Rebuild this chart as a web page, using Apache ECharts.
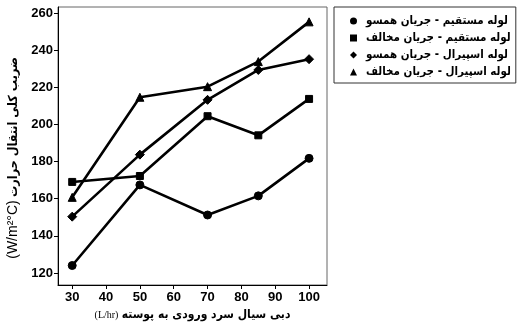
<!DOCTYPE html>
<html><head><meta charset="utf-8">
<script src="https://cdn.jsdelivr.net/npm/echarts@6/dist/echarts.min.js"></script>
<style>html,body{margin:0;padding:0;background:#fff}#c{width:518px;height:328px}</style>
</head><body><div id="c"></div>
<script>
const xValues = [30, 50, 70, 85, 100];
const seriesNames = [
  'لوله مستقیم - جریان همسو',
  'لوله مستقیم - جریان مخالف',
  'لوله اسپیرال - جریان همسو',
  'لوله اسپیرال - جریان مخالف'
];
const straightCo = [124, 167.4, 151.2, 161.5, 181.7];
const straightCounter = [169, 172.2, 204.4, 194.1, 213.7];
const spiralCo = [150.3, 183.7, 213.2, 229.3, 235.1];
const spiralCounter = [160.7, 214.6, 220.3, 233.8, 255.2];
const xTicks = [30, 40, 50, 60, 70, 80, 90, 100];
const yTicks = [120, 140, 160, 180, 200, 220, 240, 260];
const symbols = ['circle', 'rect', 'diamond', 'triangle'];
const symbolSizes = [8, 7, 9, 8];
const allValues = [straightCo, straightCounter, spiralCo, spiralCounter];

const chart = echarts.init(document.getElementById('c'), null, {renderer: 'canvas'});
const series = allValues.map((vals, i) => ({
  name: seriesNames[i],
  type: 'line',
  data: xValues.map((x, j) => [x, vals[j]]),
  symbol: symbols[i],
  symbolSize: symbolSizes[i],
  showAllSymbol: true,
  lineStyle: {color: '#000', width: 2.6},
  itemStyle: {color: '#000', borderColor: '#000'},
  emphasis: {disabled: true},
  animation: false
}));

const persianFont = '"DejaVu Sans Condensed", "DejaVu Sans", sans-serif';

chart.setOption({
  backgroundColor: '#fff',
  animation: false,
  grid: {left: 58, top: 7, right: 191, bottom: 43, show: true, borderColor: '#666', borderWidth: 1, outerBoundsMode: 'none', containLabel: false},
  legend: {
    orient: 'vertical',
    left: 334, top: 7,
    padding: [7, 5, 4, 16],
    itemGap: 3,
    itemWidth: 7, itemHeight: 7,
    borderColor: '#333', borderWidth: 1,
    data: seriesNames.map((n, i) => ({name: n, icon: symbols[i]})),
    itemStyle: {color: '#000'},
    textStyle: {fontFamily: persianFont, fontWeight: 'bold', fontSize: 11.5, lineHeight: 14, color: '#000', padding: [0, 0, 0, 4]}
  },
  xAxis: {
    type: 'value', min: 25.8, max: 105.3,
    axisLine: {show: true, lineStyle: {color: '#000', width: 1}},
    axisTick: {show: true, inside: false, length: 4, customValues: xTicks, lineStyle: {color: '#000'}},
    axisLabel: {customValues: xTicks, color: '#000', fontWeight: 'bold', fontSize: 13, fontFamily: 'Liberation Sans', margin: 6},
    splitLine: {show: false},
    name: '{u|(L/hr)} {b|دبی سیال سرد ورودی به پوسته}',
    nameLocation: 'middle', nameGap: 20,
    nameTextStyle: {
      rich: {
        u: {fontFamily: 'Liberation Serif', fontSize: 10, color: '#000'},
        b: {fontFamily: persianFont, fontWeight: 'bold', fontSize: 12, color: '#000'}
      }
    }
  },
  yAxis: {
    type: 'value', min: 113.5, max: 263.2,
    axisLine: {show: true, lineStyle: {color: '#000', width: 1}},
    axisTick: {show: true, inside: false, length: 4, customValues: yTicks, lineStyle: {color: '#000'}},
    axisLabel: {customValues: yTicks, color: '#000', fontWeight: 'bold', fontSize: 13, fontFamily: 'Liberation Sans', margin: 5},
    splitLine: {show: false},
    name: '{u|(W/m²°C)} {b|ضریب کلی انتقال حرارت}',
    nameLocation: 'middle', nameGap: 35, nameRotate: 90,
    nameTextStyle: {
      padding: [0, 24, 0, 0],
      rich: {
        u: {fontFamily: 'Liberation Sans', fontSize: 14, color: '#000'},
        b: {fontFamily: persianFont, fontWeight: 'bold', fontSize: 12.5, color: '#000'}
      }
    }
  },
  series: series
});
</script></body></html>
